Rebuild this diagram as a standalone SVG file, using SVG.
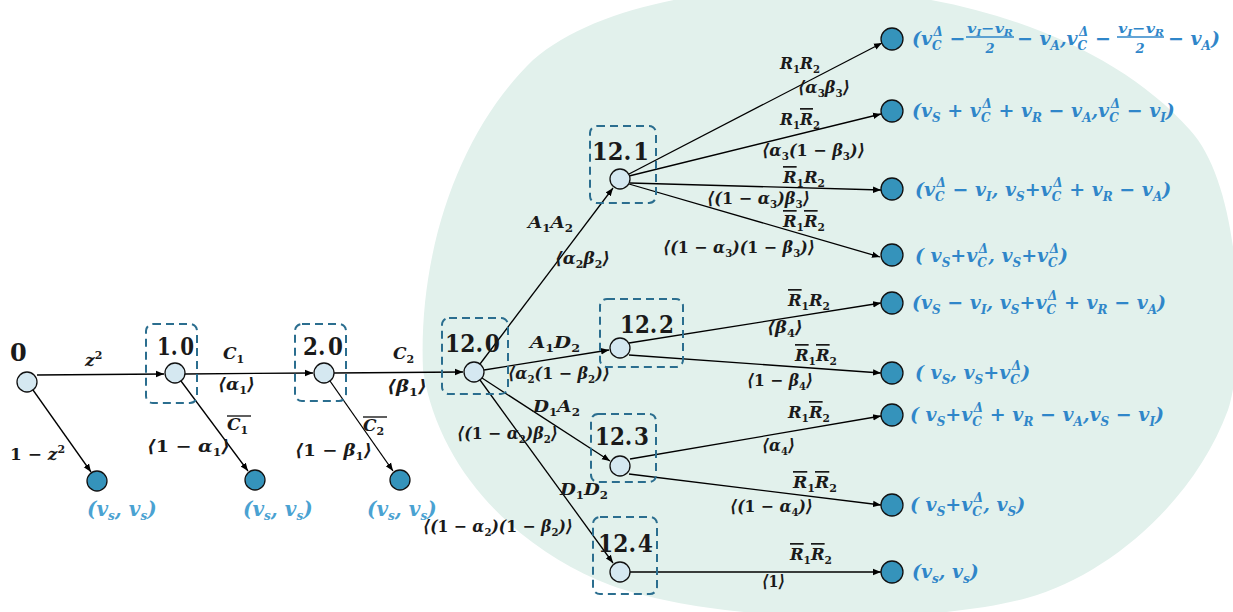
<svg xmlns="http://www.w3.org/2000/svg" width="1233" height="612" viewBox="0 0 1233 612">
<style>
.nd{fill:#d5e8f1;stroke:#111;stroke-width:1.3}
.lf{fill:#3593bb;stroke:#111;stroke-width:1.3}
.bx{fill:none;stroke:#2b6e8f;stroke-width:2;stroke-dasharray:8 5}
.ed{fill:none;stroke:#000;stroke-width:1.3;marker-end:url(#arr)}
.ov{stroke:#1a1a1a;stroke-width:1.4}
.nl{font-family:"DejaVu Serif",serif;font-weight:bold;font-size:24px;fill:#1a1a1a}
.el{font-family:"DejaVu Serif",serif;font-weight:bold;font-style:italic;font-size:17px;fill:#1a1a1a}
.es{font-size:11px;font-style:normal}
.u{font-style:normal}
.rl{font-family:"DejaVu Serif",serif;font-weight:bold;font-style:italic;font-size:19px;fill:#2f86c9}
.ll{font-family:"DejaVu Serif",serif;font-weight:bold;font-style:italic;font-size:20px;fill:#4aa2d2}
.s{font-size:12px}
.fr{font-size:13px}
.fs{font-size:9px}
</style>
<defs>
<marker id="arr" viewBox="0 0 10 10" refX="10" refY="5" markerWidth="8" markerHeight="8" orient="auto" markerUnits="userSpaceOnUse">
<path d="M0,1 L10,5 L0,9 z" fill="#000"/>
</marker>
</defs>
<path id="bg" fill="#e2f1ec" d="M423,370 C418,250 460,130 533,60 C590,10 700,-12 800,-12 C960,-12 1110,40 1190,130 C1245,190 1245,360 1228,410 C1195,500 1110,575 1027,598 C930,625 720,625 610,585 C530,555 440,480 423,370 Z"/>

<g id="connectors">
<path class="ed" d="M37,375 L164,374"/>
<path class="ed" d="M33,390 L91,472"/>
<path class="ed" d="M185,374 L313,373"/>
<path class="ed" d="M181,381 L248,471"/>
<path class="ed" d="M334,373 L463,372"/>
<path class="ed" d="M330,381 L393,471"/>
<path class="ed" d="M480,364 L613,188"/>
<path class="ed" d="M484,370 L609,350"/>
<path class="ed" d="M482,378 L610,461"/>
<path class="ed" d="M480,380 L613,563"/>
<path class="ed" d="M629,174 L882,43"/>
<path class="ed" d="M629,176 L881,114"/>
<path class="ed" d="M630,183 L881,190"/>
<path class="ed" d="M629,184 L880,257"/>
<path class="ed" d="M629,343 L881,303"/>
<path class="ed" d="M629,355 L881,373"/>
<path class="ed" d="M630,459 L881,416"/>
<path class="ed" d="M629,474 L881,505"/>
<path class="ed" d="M630,572 L881,572"/>

<text class="el" x="85" y="366">z<tspan class="es" dy="-7">2</tspan></text>
<text class="el" x="10" y="460" textLength="55" lengthAdjust="spacingAndGlyphs"><tspan class="u">1</tspan> − z<tspan class="es" dy="-7">2</tspan></text>
<text class="el" x="223" y="359">C<tspan class="es" dy="4">1</tspan></text>
<text class="el" x="218" y="390" textLength="37" lengthAdjust="spacingAndGlyphs">⟨α<tspan class="es" dy="4">1</tspan><tspan dy="-4">⟩</tspan></text>
<text class="el" x="227" y="430">C<tspan class="es" dy="4">1</tspan></text>
<line class="ov" x1="227" y1="416" x2="251" y2="416"/>
<text class="el" x="147" y="452" textLength="83" lengthAdjust="spacingAndGlyphs">⟨<tspan class="u">1</tspan> − α<tspan class="es" dy="4">1</tspan><tspan dy="-4">⟩</tspan></text>
<text class="el" x="393" y="359">C<tspan class="es" dy="4">2</tspan></text>
<text class="el" x="387" y="392" textLength="40" lengthAdjust="spacingAndGlyphs">⟨β<tspan class="es" dy="4">1</tspan><tspan dy="-4">⟩</tspan></text>
<text class="el" x="363" y="431">C<tspan class="es" dy="4">2</tspan></text>
<line class="ov" x1="363" y1="417" x2="387" y2="417"/>
<text class="el" x="295" y="456" textLength="77" lengthAdjust="spacingAndGlyphs">⟨<tspan class="u">1</tspan> − β<tspan class="es" dy="4">1</tspan><tspan dy="-4">⟩</tspan></text>
<text class="el" x="528" y="228" textLength="45" lengthAdjust="spacingAndGlyphs">A<tspan class="es" dy="4">1</tspan><tspan dy="-4">A</tspan><tspan class="es" dy="4">2</tspan></text>
<text class="el" x="555" y="264" textLength="55" lengthAdjust="spacingAndGlyphs">⟨α<tspan class="es" dy="4">2</tspan><tspan dy="-4">β</tspan><tspan class="es" dy="4">2</tspan><tspan dy="-4">⟩</tspan></text>
<text class="el" x="530" y="348" textLength="50" lengthAdjust="spacingAndGlyphs">A<tspan class="es" dy="4">1</tspan><tspan dy="-4">D</tspan><tspan class="es" dy="4">2</tspan></text>
<text class="el" x="508" y="379" textLength="102" lengthAdjust="spacingAndGlyphs">⟨α<tspan class="es" dy="4">2</tspan><tspan dy="-4">(</tspan><tspan class="u">1</tspan> − β<tspan class="es" dy="4">2</tspan><tspan dy="-4">)⟩</tspan></text>
<text class="el" x="533" y="412" textLength="47" lengthAdjust="spacingAndGlyphs">D<tspan class="es" dy="4">1</tspan><tspan dy="-4">A</tspan><tspan class="es" dy="4">2</tspan></text>
<text class="el" x="457" y="439" textLength="101" lengthAdjust="spacingAndGlyphs">⟨(<tspan class="u">1</tspan> − α<tspan class="es" dy="4">2</tspan><tspan dy="-4">)β</tspan><tspan class="es" dy="4">2</tspan><tspan dy="-4">⟩</tspan></text>
<text class="el" x="560" y="495" textLength="48" lengthAdjust="spacingAndGlyphs">D<tspan class="es" dy="4">1</tspan><tspan dy="-4">D</tspan><tspan class="es" dy="4">2</tspan></text>
<text class="el" x="423" y="532" textLength="150" lengthAdjust="spacingAndGlyphs">⟨(<tspan class="u">1</tspan> − α<tspan class="es" dy="4">2</tspan><tspan dy="-4">)(</tspan><tspan class="u">1</tspan> − β<tspan class="es" dy="4">2</tspan><tspan dy="-4">)⟩</tspan></text>
<text class="el" x="780" y="69" textLength="40" lengthAdjust="spacingAndGlyphs">R<tspan class="es" dy="4">1</tspan><tspan dy="-4">R</tspan><tspan class="es" dy="4">2</tspan></text>
<text class="el" x="798" y="93" textLength="52" lengthAdjust="spacingAndGlyphs">⟨α<tspan class="es" dy="4">3</tspan><tspan dy="-4">β</tspan><tspan class="es" dy="4">3</tspan><tspan dy="-4">⟩</tspan></text>
<text class="el" x="780" y="125" textLength="40" lengthAdjust="spacingAndGlyphs">R<tspan class="es" dy="4">1</tspan><tspan dy="-4" text-decoration="overline">R</tspan><tspan class="es" dy="4">2</tspan></text>
<text class="el" x="762" y="156" textLength="103" lengthAdjust="spacingAndGlyphs">⟨α<tspan class="es" dy="4">3</tspan><tspan dy="-4">(</tspan><tspan class="u">1</tspan> − β<tspan class="es" dy="4">3</tspan><tspan dy="-4">)⟩</tspan></text>
<text class="el" x="783" y="183" textLength="42" lengthAdjust="spacingAndGlyphs"><tspan text-decoration="overline">R</tspan><tspan class="es" dy="4">1</tspan><tspan dy="-4">R</tspan><tspan class="es" dy="4">2</tspan></text>
<text class="el" x="707" y="204" textLength="103" lengthAdjust="spacingAndGlyphs">⟨(<tspan class="u">1</tspan> − α<tspan class="es" dy="4">3</tspan><tspan dy="-4">)β</tspan><tspan class="es" dy="4">3</tspan><tspan dy="-4">⟩</tspan></text>
<text class="el" x="783" y="227" textLength="42" lengthAdjust="spacingAndGlyphs"><tspan text-decoration="overline">R</tspan><tspan class="es" dy="4">1</tspan><tspan dy="-4" text-decoration="overline">R</tspan><tspan class="es" dy="4">2</tspan></text>
<text class="el" x="663" y="253" textLength="152" lengthAdjust="spacingAndGlyphs">⟨(<tspan class="u">1</tspan> − α<tspan class="es" dy="4">3</tspan><tspan dy="-4">)(</tspan><tspan class="u">1</tspan> − β<tspan class="es" dy="4">3</tspan><tspan dy="-4">)⟩</tspan></text>
<text class="el" x="788" y="306" textLength="42" lengthAdjust="spacingAndGlyphs"><tspan text-decoration="overline">R</tspan><tspan class="es" dy="4">1</tspan><tspan dy="-4">R</tspan><tspan class="es" dy="4">2</tspan></text>
<text class="el" x="767" y="333" textLength="36" lengthAdjust="spacingAndGlyphs">⟨β<tspan class="es" dy="4">4</tspan><tspan dy="-4">⟩</tspan></text>
<text class="el" x="795" y="361" textLength="42" lengthAdjust="spacingAndGlyphs"><tspan text-decoration="overline">R</tspan><tspan class="es" dy="4">1</tspan><tspan dy="-4" text-decoration="overline">R</tspan><tspan class="es" dy="4">2</tspan></text>
<text class="el" x="747" y="386" textLength="66" lengthAdjust="spacingAndGlyphs">⟨<tspan class="u">1</tspan> − β<tspan class="es" dy="4">4</tspan><tspan dy="-4">⟩</tspan></text>
<text class="el" x="788" y="418" textLength="42" lengthAdjust="spacingAndGlyphs">R<tspan class="es" dy="4">1</tspan><tspan dy="-4" text-decoration="overline">R</tspan><tspan class="es" dy="4">2</tspan></text>
<text class="el" x="762" y="451" textLength="33" lengthAdjust="spacingAndGlyphs">⟨α<tspan class="es" dy="4">4</tspan><tspan dy="-4">⟩</tspan></text>
<text class="el" x="793" y="488" textLength="44" lengthAdjust="spacingAndGlyphs"><tspan text-decoration="overline">R</tspan><tspan class="es" dy="4">1</tspan><tspan dy="-4" text-decoration="overline">R</tspan><tspan class="es" dy="4">2</tspan></text>
<text class="el" x="730" y="512" textLength="83" lengthAdjust="spacingAndGlyphs">⟨(<tspan class="u">1</tspan> − α<tspan class="es" dy="4">4</tspan><tspan dy="-4">)⟩</tspan></text>
<text class="el" x="790" y="560" textLength="42" lengthAdjust="spacingAndGlyphs"><tspan text-decoration="overline">R</tspan><tspan class="es" dy="4">1</tspan><tspan dy="-4" text-decoration="overline">R</tspan><tspan class="es" dy="4">2</tspan></text>
<text class="el" x="762" y="587" textLength="23" lengthAdjust="spacingAndGlyphs">⟨<tspan class="u">1</tspan>⟩</text>
</g>

<g id="n0"><circle class="nd" cx="27" cy="382" r="10"/><text class="nl" x="10" y="361">0</text></g>
<g id="n1_0"><rect class="bx" x="146" y="324" width="51" height="79" rx="7"/><circle class="nd" cx="175" cy="373" r="10"/><text class="nl" x="157" y="355" textLength="37" lengthAdjust="spacingAndGlyphs">1.<tspan dx="3">0</tspan></text></g>
<g id="n2_0"><rect class="bx" x="295" y="324" width="51" height="77" rx="7"/><circle class="nd" cx="324" cy="373" r="10"/><text class="nl" x="303" y="355" textLength="40" lengthAdjust="spacingAndGlyphs">2.<tspan dx="3">0</tspan></text></g>
<g id="n12_0"><rect class="bx" x="442" y="318" width="66" height="76" rx="7"/><circle class="nd" cx="474" cy="372" r="10"/><text class="nl" x="445" y="352" textLength="55" lengthAdjust="spacingAndGlyphs">12.<tspan dx="2">0</tspan></text></g>
<g id="n12_1"><rect class="bx" x="590" y="126" width="66" height="77" rx="7"/><circle class="nd" cx="620" cy="179" r="10"/><text class="nl" x="592" y="160" textLength="57" lengthAdjust="spacingAndGlyphs">12.<tspan dx="2">1</tspan></text></g>
<g id="n12_2"><rect class="bx" x="600" y="299" width="83" height="68" rx="7"/><circle class="nd" cx="620" cy="348" r="10"/><text class="nl" x="620" y="333" textLength="54" lengthAdjust="spacingAndGlyphs">12.<tspan dx="2">2</tspan></text></g>
<g id="n12_3"><rect class="bx" x="591" y="414" width="65" height="68" rx="7"/><circle class="nd" cx="620" cy="466" r="10"/><text class="nl" x="595" y="445" textLength="54" lengthAdjust="spacingAndGlyphs">12.<tspan dx="2">3</tspan></text></g>
<g id="n12_4"><rect class="bx" x="593" y="517" width="64" height="77" rx="7"/><circle class="nd" cx="620" cy="572" r="10"/><text class="nl" x="598" y="552" textLength="55" lengthAdjust="spacingAndGlyphs">12.<tspan dx="2">4</tspan></text></g>

<g id="leaf_a"><circle class="lf" cx="97" cy="481" r="10"/><text class="ll" x="87" y="516">(v<tspan class="s" dy="4">s</tspan><tspan dy="-4">, v</tspan><tspan class="s" dy="4">s</tspan><tspan dy="-4">)</tspan></text></g>
<g id="leaf_b"><circle class="lf" cx="255" cy="480" r="10"/><text class="ll" x="243" y="516">(v<tspan class="s" dy="4">s</tspan><tspan dy="-4">, v</tspan><tspan class="s" dy="4">s</tspan><tspan dy="-4">)</tspan></text></g>
<g id="leaf_c"><circle class="lf" cx="400" cy="480" r="10"/><text class="ll" x="367" y="516">(v<tspan class="s" dy="4">s</tspan><tspan dy="-4">, v</tspan><tspan class="s" dy="4">s</tspan><tspan dy="-4">)</tspan></text></g>

<g id="leaf1"><circle class="lf" cx="892" cy="39" r="11"/>
<text class="rl" x="912" y="45">(v<tspan class="s" dy="5">C</tspan><tspan class="s" dx="-8" dy="-14">Δ</tspan><tspan dy="9"> −</tspan></text>
<text class="rl fr" x="967" y="33" textLength="46" lengthAdjust="spacingAndGlyphs">v<tspan class="fs" dy="3">I</tspan><tspan dy="-3">−v</tspan><tspan class="fs" dy="3">R</tspan></text>
<line x1="966" y1="37" x2="1014" y2="37" stroke="#2f86c9" stroke-width="1.4"/>
<text class="rl fr" x="990" y="53" text-anchor="middle">2</text>
<text class="rl" x="1017" y="45">− v<tspan class="s" dy="5">A</tspan><tspan dy="-5">,v</tspan><tspan class="s" dy="5">C</tspan><tspan class="s" dx="-8" dy="-14">Δ</tspan><tspan dy="9"> −</tspan></text>
<text class="rl fr" x="1118" y="33" textLength="46" lengthAdjust="spacingAndGlyphs">v<tspan class="fs" dy="3">I</tspan><tspan dy="-3">−v</tspan><tspan class="fs" dy="3">R</tspan></text>
<line x1="1117" y1="37" x2="1164" y2="37" stroke="#2f86c9" stroke-width="1.4"/>
<text class="rl fr" x="1140" y="53" text-anchor="middle">2</text>
<text class="rl" x="1168" y="45">− v<tspan class="s" dy="5">A</tspan><tspan dy="-5">)</tspan></text>
</g>
<g id="leaf2"><circle class="lf" cx="892" cy="111" r="11"/><text class="rl" x="912" y="117">(v<tspan class="s" dy="5">S</tspan><tspan dy="-5"> + v</tspan><tspan class="s" dy="5">C</tspan><tspan class="s" dx="-8" dy="-14">Δ</tspan><tspan dy="9"> + v</tspan><tspan class="s" dy="5">R</tspan><tspan dy="-5"> − v</tspan><tspan class="s" dy="5">A</tspan><tspan dy="-5">,v</tspan><tspan class="s" dy="5">C</tspan><tspan class="s" dx="-8" dy="-14">Δ</tspan><tspan dy="9"> − v</tspan><tspan class="s" dy="5">I</tspan><tspan dy="-5">)</tspan></text></g>
<g id="leaf3"><circle class="lf" cx="892" cy="189" r="11"/><text class="rl" x="915" y="196">(v<tspan class="s" dy="5">C</tspan><tspan class="s" dx="-8" dy="-14">Δ</tspan><tspan dy="9"> − v</tspan><tspan class="s" dy="5">I</tspan><tspan dy="-5">, v</tspan><tspan class="s" dy="5">S</tspan><tspan dy="-5">+v</tspan><tspan class="s" dy="5">C</tspan><tspan class="s" dx="-8" dy="-14">Δ</tspan><tspan dy="9"> + v</tspan><tspan class="s" dy="5">R</tspan><tspan dy="-5"> − v</tspan><tspan class="s" dy="5">A</tspan><tspan dy="-5">)</tspan></text></g>
<g id="leaf4"><circle class="lf" cx="892" cy="255" r="11"/><text class="rl" x="915" y="262">( v<tspan class="s" dy="5">S</tspan><tspan dy="-5">+v</tspan><tspan class="s" dy="5">C</tspan><tspan class="s" dx="-8" dy="-14">Δ</tspan><tspan dy="9">, v</tspan><tspan class="s" dy="5">S</tspan><tspan dy="-5">+v</tspan><tspan class="s" dy="5">C</tspan><tspan class="s" dx="-8" dy="-14">Δ</tspan><tspan dy="9">)</tspan></text></g>
<g id="leaf5"><circle class="lf" cx="892" cy="303" r="11"/><text class="rl" x="912" y="309">(v<tspan class="s" dy="5">S</tspan><tspan dy="-5"> − v</tspan><tspan class="s" dy="5">I</tspan><tspan dy="-5">, v</tspan><tspan class="s" dy="5">S</tspan><tspan dy="-5">+v</tspan><tspan class="s" dy="5">C</tspan><tspan class="s" dx="-8" dy="-14">Δ</tspan><tspan dy="9"> + v</tspan><tspan class="s" dy="5">R</tspan><tspan dy="-5"> − v</tspan><tspan class="s" dy="5">A</tspan><tspan dy="-5">)</tspan></text></g>
<g id="leaf6"><circle class="lf" cx="892" cy="373" r="11"/><text class="rl" x="915" y="379">( v<tspan class="s" dy="5">S</tspan><tspan dy="-5">, v</tspan><tspan class="s" dy="5">S</tspan><tspan dy="-5">+v</tspan><tspan class="s" dy="5">C</tspan><tspan class="s" dx="-8" dy="-14">Δ</tspan><tspan dy="9">)</tspan></text></g>
<g id="leaf7"><circle class="lf" cx="892" cy="415" r="11"/><text class="rl" x="910" y="421">( v<tspan class="s" dy="5">S</tspan><tspan dy="-5">+v</tspan><tspan class="s" dy="5">C</tspan><tspan class="s" dx="-8" dy="-14">Δ</tspan><tspan dy="9"> + v</tspan><tspan class="s" dy="5">R</tspan><tspan dy="-5"> − v</tspan><tspan class="s" dy="5">A</tspan><tspan dy="-5">,v</tspan><tspan class="s" dy="5">S</tspan><tspan dy="-5"> − v</tspan><tspan class="s" dy="5">I</tspan><tspan dy="-5">)</tspan></text></g>
<g id="leaf8"><circle class="lf" cx="892" cy="505" r="11"/><text class="rl" x="910" y="511">( v<tspan class="s" dy="5">S</tspan><tspan dy="-5">+v</tspan><tspan class="s" dy="5">C</tspan><tspan class="s" dx="-8" dy="-14">Δ</tspan><tspan dy="9">, v</tspan><tspan class="s" dy="5">S</tspan><tspan dy="-5">)</tspan></text></g>
<g id="leaf9"><circle class="lf" cx="892" cy="572" r="11"/><text class="rl" x="912" y="578">(v<tspan class="s" dy="5">s</tspan><tspan dy="-5">, v</tspan><tspan class="s" dy="5">s</tspan><tspan dy="-5">)</tspan></text></g>
</svg>
